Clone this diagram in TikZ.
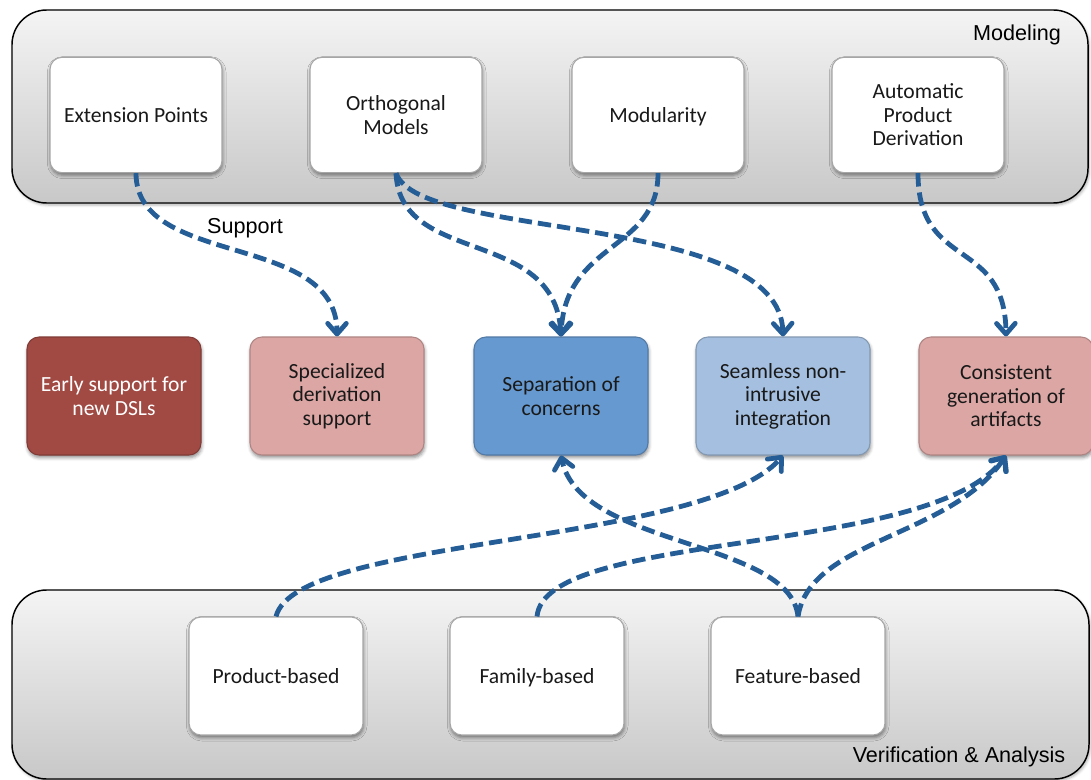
\documentclass[tikz,border=0pt]{standalone}
\usepackage{fontspec}
\setmainfont{Carlito}
\newfontfamily\arialfont{Liberation Sans}
\usetikzlibrary{arrows.meta,shadows.blur}

\definecolor{flowblue}{RGB}{37,93,150}
\definecolor{darkrose}{RGB}{161,74,68}
\definecolor{lightrose}{RGB}{219,166,164}
\definecolor{midblue}{RGB}{102,153,207}
\definecolor{paleblue}{RGB}{164,191,223}
\definecolor{paneltop}{RGB}{244,244,244}
\definecolor{panelbottom}{RGB}{200,200,200}

\tikzset{
  panel/.style={draw=black, line width=1.1pt, rounded corners=26pt,
    top color=paneltop, bottom color=panelbottom,
    blur shadow={shadow xshift=1pt, shadow yshift=-1.5pt, shadow blur radius=2pt, shadow opacity=30}},
  boxtext/.style={align=center, text=black!90, font=\fontsize{16.2}{17.6}\selectfont},
  oneline/.style={text height=11pt, text depth=0pt},
  whitebox/.style={boxtext, draw=black!35, line width=0.8pt, fill=white, rounded corners=9pt,
    minimum width=129pt, minimum height=86.5pt, inner sep=2pt,
    blur shadow={shadow xshift=0.5pt, shadow yshift=-2pt, shadow blur radius=2.5pt, shadow opacity=45}},
  goalbox/.style={boxtext, draw=#1!80!black, line width=0.8pt, fill=#1, rounded corners=9pt,
    minimum width=130.5pt, minimum height=88.5pt, inner sep=2pt,
    blur shadow={shadow xshift=0.5pt, shadow yshift=-2pt, shadow blur radius=2.5pt, shadow opacity=45}},
  caption/.style={font=\arialfont\fontsize{16.2}{18}\selectfont, text=black, inner sep=0pt},
  flow/.style={draw=flowblue, line width=3.6pt, dash pattern=on 10pt off 4.5pt,
    -{Straight Barb[length=8pt, width=14pt, line width=3.6pt, round]}}
}

\begin{document}
\begin{tikzpicture}[x=0.75pt, y=-0.75pt]
\useasboundingbox (0,0) rectangle (1091,780);

% group panels
\path[panel] (12,10) rectangle (1088,203);
\path[panel] (12,590) rectangle (1089,779);
\node[caption] (modeling) at (1017,35) {Modeling};
\node[caption] (verif) at (959,757) {Verification \& Analysis};

% modeling techniques
\node[whitebox, oneline] (ext)  at (136,115) {Extension Points};
\node[whitebox] (orth) at (396,115) {Orthogonal\\Models};
\node[whitebox, oneline] (mod)  at (658,115) {Modularity};
\node[whitebox] (apd)  at (918,115) {Automatic\\Product\\Derivation};

% requirements
\node[goalbox=darkrose, text=white] (early) at (114,396) {Early support for\\new DSLs};
\node[goalbox=lightrose] (spec) at (337,396) {Specialized\\derivation\\support};
\node[goalbox=midblue]   (sep)  at (561,396) {Separation of\\concerns};
\node[goalbox=paleblue]  (seam) at (783,396) {Seamless non-\\intrusive\\integration};
\node[goalbox=lightrose] (cons) at (1006,396) {Consistent\\generation of\\artifacts};

% analysis strategies
\node[whitebox, oneline, minimum width=130.5pt, minimum height=88.5pt] (prod) at (276,676) {Product-based};
\node[whitebox, oneline, minimum width=130.5pt, minimum height=88.5pt] (fam)  at (537,676) {Family-based};
\node[whitebox, oneline, minimum width=130.5pt, minimum height=88.5pt] (feat) at (798,676) {Feature-based};

\node[caption] (support) at (245,228) {Support};

% support relations from modeling
\draw[flow] (ext.south)  .. controls +(0,95)  and +(0,-105) .. (spec.north);
\draw[flow] (orth.south) .. controls +(4,93)  and +(-6,-110) .. (sep.north);
\draw[flow] (orth.south) .. controls +(24,68) and +(-3,-125) .. (seam.north);
\draw[flow] (mod.south)  .. controls +(0,78)  and +(4,-95)   .. (sep.north);
\draw[flow] (apd.south)  .. controls +(0,98)  and +(-1,-100) .. (cons.north);

% support relations from verification
\draw[flow] (prod.north) .. controls +(20,-80) and +(-80,90)  .. (seam.south);
\draw[flow] (fam.north)  .. controls +(8,-87)  and +(-76,102) .. (cons.south);
\draw[flow] (feat.north) .. controls +(-8,-77) and +(19,92)   .. (sep.south);
\draw[flow] (feat.north) .. controls +(12,-77) and +(-56,82)  .. (cons.south);
\end{tikzpicture}
\end{document}
